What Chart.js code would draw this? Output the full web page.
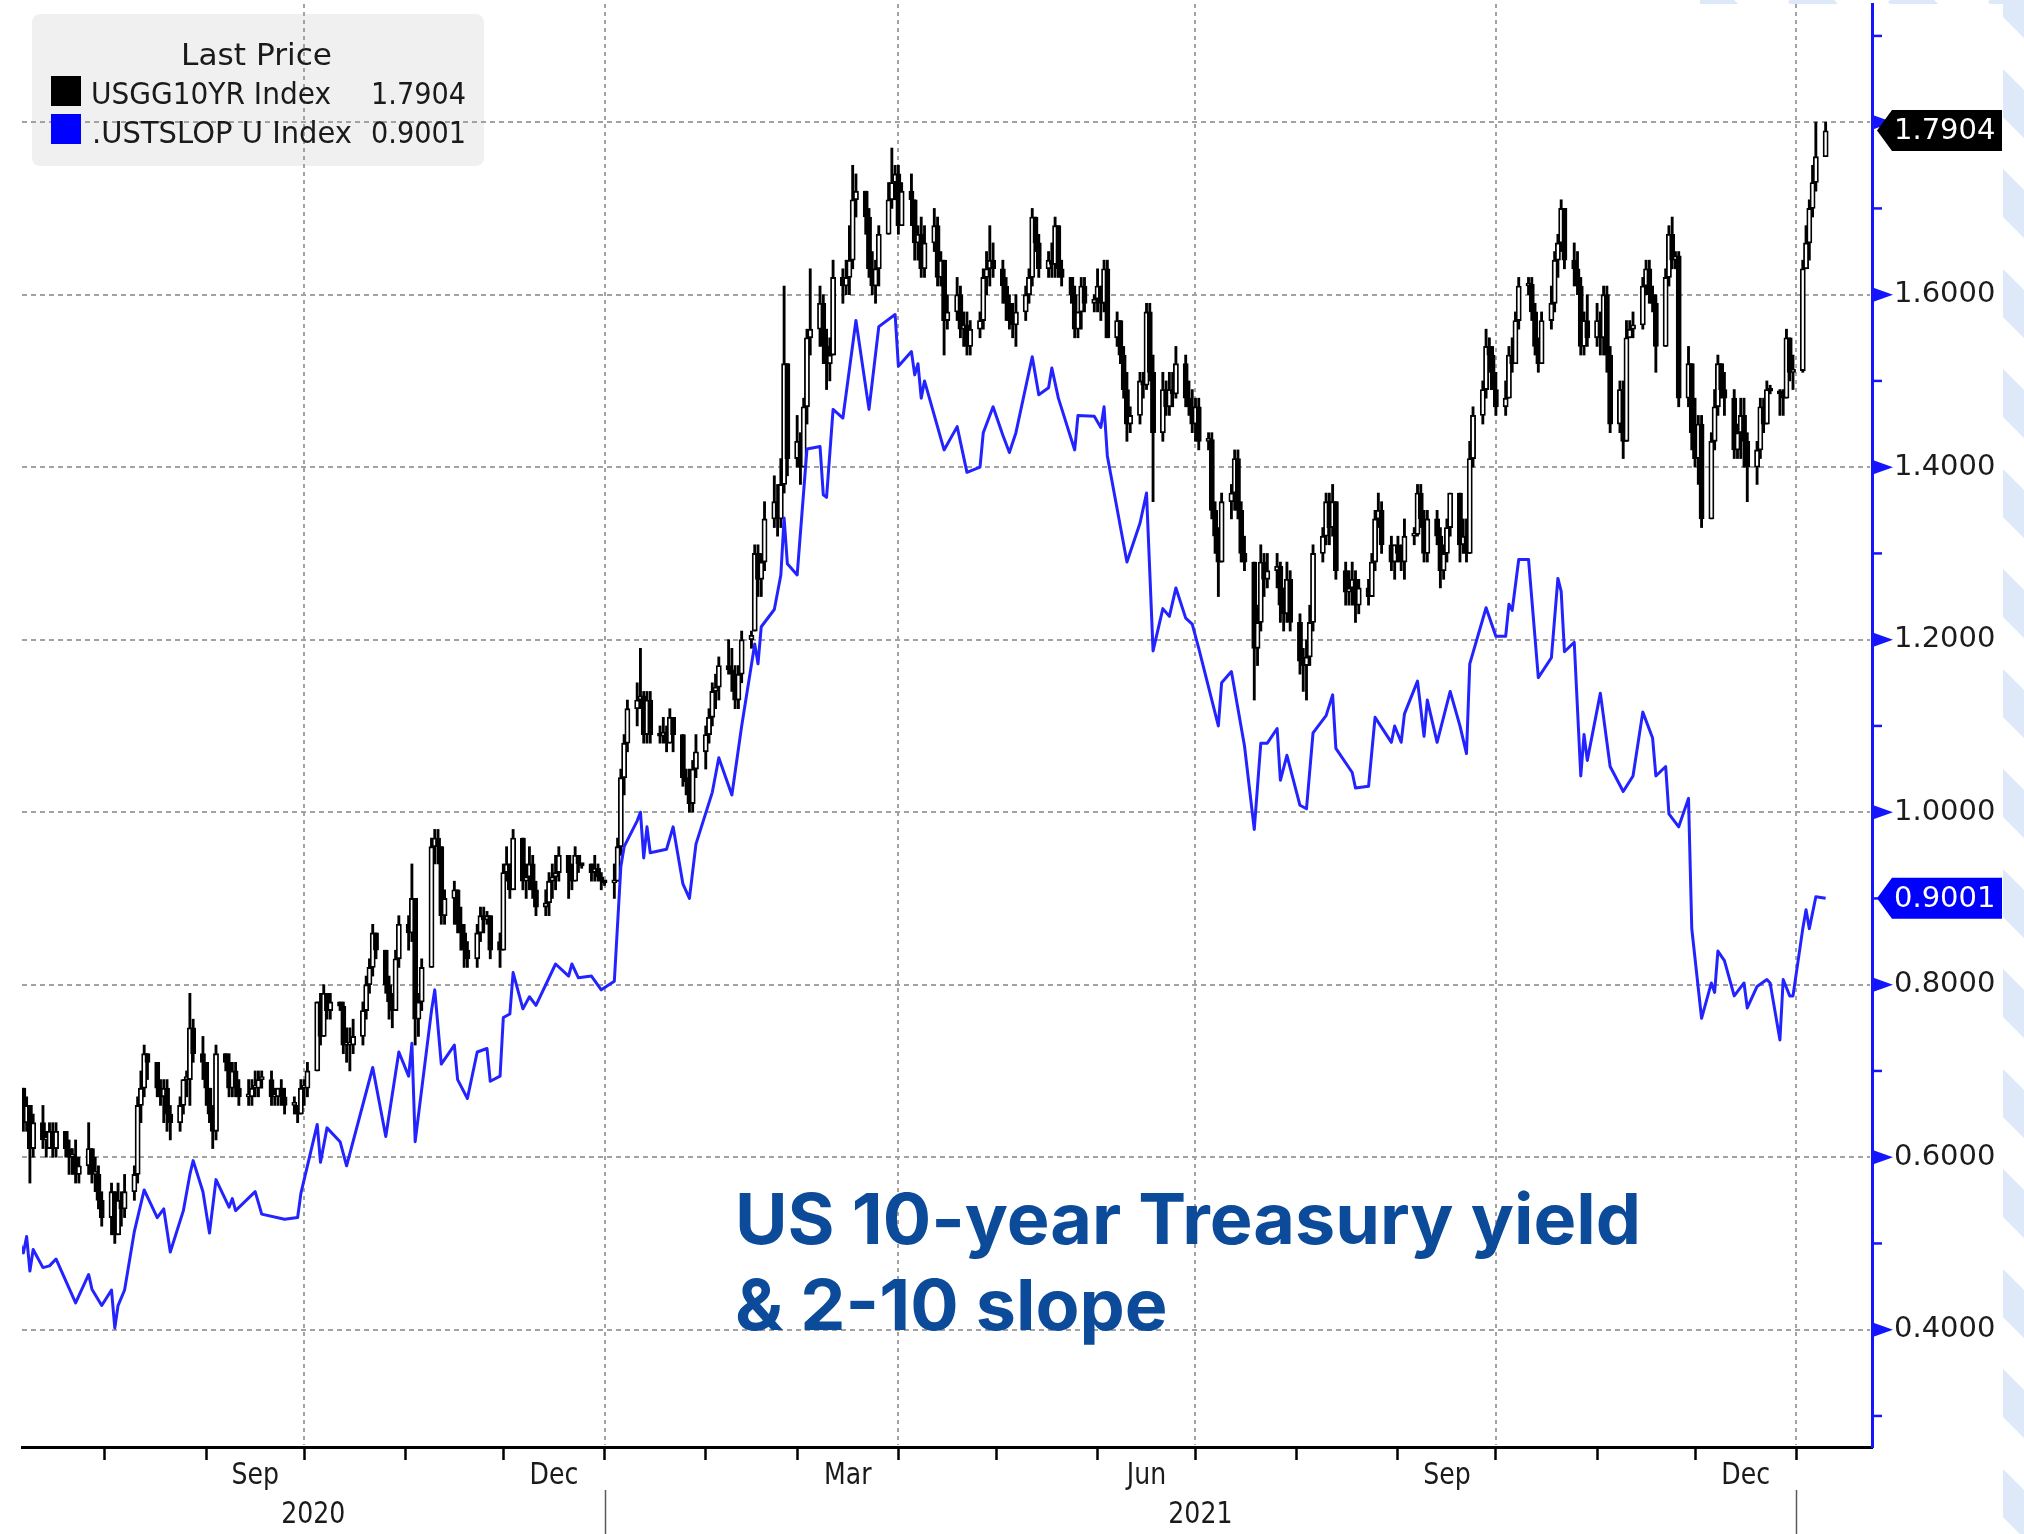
<!DOCTYPE html>
<html>
<head>
<meta charset="utf-8">
<title>US 10-year Treasury yield &amp; 2-10 slope</title>
<script src="https://cdn.jsdelivr.net/npm/chart.js@4.4.1/dist/chart.umd.min.js"></script>
<style>
html,body{margin:0;padding:0;background:#ffffff;overflow:hidden;}
#wrap{width:2024px;height:1534px;}
canvas{display:block;}
</style>
</head>
<body>
<div id="wrap"><canvas id="chart" width="2024" height="1534"></canvas></div>
<script>
// ================= DATA =================
const firstTradeDay = '2020-07-06';
const lastTradeDay  = '2022-01-10';

// USGG10YR Index daily candles (one row per week, Mon..Fri)
const usgg10Open = [
0.67,0.68,0.64,0.66,0.61, 0.64,0.62,0.61,0.63,0.61, 0.63,0.61,0.60,0.60,0.58, 0.59,0.61,0.58,0.58,0.55,
0.53,0.56,0.51,0.55,0.54, 0.56,0.58,0.66,0.68,0.72, 0.71,0.68,0.67,0.68,0.65, 0.64,0.66,0.69,0.69,0.75,
0.72,0.71,0.68,0.65,0.63, 0.72,0.71,0.68,0.70,0.68, 0.67,0.67,0.68,0.68,0.69, 0.69,0.67,0.67,0.68,0.67,
0.66,0.66,0.65,0.68,0.68, 0.70,0.78,0.74,0.79,0.77, 0.78,0.775,0.73,0.73,0.73, 0.74,0.77,0.80,0.82,0.86,
0.84,0.80,0.78,0.77,0.83, 0.87,0.86,0.90,0.76,0.78, 0.82,0.96,0.97,0.96,0.88, 0.90,0.91,0.87,0.86,0.84,
0.83,0.86,0.88,0.875,0.88, 0.85,0.84,0.93,0.94,0.91, 0.97,0.92,0.925,0.94,0.91, 0.89,0.895,0.92,0.925,0.93,
0.95,0.93,0.92,0.95,0.94, 0.94,0.93,0.935,0.925,0.92,
0.918,0.92,0.96,1.04,1.08, 1.12,1.13,1.135,1.09,1.13, 1.09,1.088,1.093,1.08,1.11, 1.09,1.04,1.035,1.01,1.05,
1.07,1.09,1.11,1.14,1.145, 1.17,1.165,1.16,1.13,1.16, 1.20,1.21,1.30,1.27,1.29, 1.34,1.36,1.34,1.38,1.52,
1.41,1.43,1.40,1.47,1.55, 1.56,1.59,1.54,1.52,1.53, 1.62,1.61,1.62,1.64,1.71, 1.72,1.69,1.63,1.61,1.63,
1.67,1.71,1.73,1.74,1.68, 1.72,1.71,1.66,1.67,1.63, 1.66,1.68,1.62,1.64,1.57, 1.58,1.60,1.56,1.565,1.54,
1.56,1.57,1.62,1.63,1.64, 1.63,1.61,1.59,1.57,1.565, 1.58,1.60,1.62,1.69,1.66, 1.63,1.64,1.635,1.68,1.63,
1.62,1.60,1.56,1.58,1.61, 1.59,1.595,1.61,1.59,1.63, 1.55,1.57,1.53,1.49,1.45, 1.46,1.50,1.495,1.58,1.51,
1.44,1.49,1.47,1.49,1.485, 1.52,1.48,1.47,1.45,1.47, 1.43,1.432,1.35,1.32,1.29, 1.36,1.37,1.41,1.35,1.30,
1.29,1.19,1.22,1.29,1.27, 1.28,1.285,1.24,1.23,1.27, 1.22,1.175,1.17,1.18,1.22, 1.30,1.32,1.36,1.33,1.36,
1.28,1.255,1.26,1.27,1.24, 1.26,1.25,1.29,1.34,1.35, 1.31,1.29,1.31,1.30,1.29, 1.32,1.322,1.37,1.34,1.30,
1.34,1.32,1.28,1.30,1.33, 1.37,1.31,1.32,1.30,1.41, 1.46,1.49,1.54,1.53,1.49, 1.47,1.48,1.53,1.52,1.57,
1.61,1.612,1.58,1.54,1.52, 1.57,1.59,1.64,1.66,1.70, 1.64,1.63,1.61,1.54,1.57, 1.55,1.57,1.55,1.60,1.53,
1.45,1.49,1.43,1.55,1.56, 1.565,1.61,1.63,1.60,1.59, 1.54,1.62,1.67,1.64,1.645, 1.48,1.52,1.44,1.41,1.45,
1.34,1.43,1.47,1.52,1.49, 1.48,1.42,1.44,1.46,1.43, 1.40,1.42,1.47,1.45,1.49, 1.488,1.485,1.48,1.55,1.51,
1.512,1.63,1.66,1.70,1.73, 1.76
];
const usgg10High = [
0.70,0.68,0.67,0.66,0.65, 0.66,0.63,0.64,0.64,0.64, 0.63,0.62,0.61,0.62,0.60, 0.64,0.61,0.60,0.59,0.56,
0.57,0.56,0.57,0.56,0.58, 0.59,0.67,0.70,0.73,0.72, 0.71,0.69,0.69,0.69,0.66, 0.67,0.69,0.70,0.79,0.76,
0.74,0.71,0.68,0.66,0.73, 0.72,0.72,0.71,0.71,0.69, 0.69,0.69,0.70,0.70,0.70, 0.70,0.68,0.68,0.69,0.68,
0.67,0.66,0.69,0.69,0.71, 0.78,0.79,0.80,0.79,0.79, 0.78,0.78,0.75,0.75,0.76, 0.78,0.81,0.83,0.87,0.86,
0.84,0.81,0.79,0.84,0.88, 0.88,0.94,0.90,0.79,0.83, 0.97,0.98,0.98,0.96,0.91, 0.92,0.91,0.89,0.87,0.85,
0.87,0.89,0.89,0.885,0.88, 0.86,0.94,0.96,0.94,0.98, 0.97,0.94,0.96,0.95,0.92, 0.91,0.93,0.94,0.95,0.96,
0.95,0.94,0.96,0.95,0.94, 0.94,0.95,0.94,0.93,0.92,
0.94,0.97,1.05,1.09,1.13, 1.15,1.19,1.14,1.14,1.14, 1.10,1.11,1.10,1.12,1.11, 1.09,1.05,1.05,1.06,1.09,
1.10,1.12,1.15,1.16,1.18, 1.20,1.19,1.17,1.17,1.21, 1.21,1.31,1.31,1.30,1.36, 1.39,1.38,1.41,1.61,1.52,
1.46,1.44,1.48,1.56,1.63, 1.61,1.60,1.56,1.55,1.64, 1.63,1.64,1.68,1.75,1.74, 1.72,1.70,1.65,1.64,1.68,
1.73,1.77,1.75,1.75,1.73, 1.74,1.71,1.68,1.69,1.68, 1.70,1.69,1.65,1.64,1.60, 1.62,1.61,1.58,1.58,1.57,
1.58,1.63,1.65,1.68,1.66, 1.64,1.62,1.60,1.59,1.60, 1.61,1.63,1.70,1.69,1.67, 1.65,1.66,1.69,1.68,1.64,
1.62,1.61,1.58,1.62,1.62, 1.60,1.63,1.61,1.64,1.64, 1.58,1.57,1.54,1.51,1.47, 1.51,1.51,1.59,1.59,1.53,
1.51,1.50,1.51,1.51,1.54, 1.53,1.50,1.49,1.48,1.48, 1.44,1.44,1.36,1.33,1.37, 1.38,1.42,1.42,1.36,1.32,
1.29,1.24,1.31,1.30,1.30, 1.30,1.29,1.26,1.29,1.28, 1.23,1.19,1.20,1.24,1.31, 1.33,1.37,1.37,1.38,1.36,
1.29,1.28,1.29,1.28,1.27, 1.27,1.30,1.35,1.37,1.36, 1.32,1.31,1.32,1.31,1.34, 1.33,1.38,1.38,1.35,1.35,
1.35,1.33,1.31,1.34,1.37, 1.37,1.34,1.34,1.43,1.47, 1.50,1.56,1.55,1.54,1.51, 1.50,1.54,1.55,1.58,1.62,
1.62,1.62,1.59,1.55,1.58, 1.61,1.65,1.67,1.71,1.70, 1.66,1.65,1.62,1.58,1.60, 1.59,1.58,1.61,1.61,1.54,
1.50,1.50,1.57,1.57,1.58, 1.62,1.64,1.64,1.61,1.60, 1.63,1.68,1.69,1.65,1.65, 1.54,1.52,1.48,1.46,1.46,
1.44,1.49,1.53,1.52,1.51, 1.49,1.45,1.48,1.48,1.44, 1.43,1.48,1.48,1.50,1.495, 1.49,1.49,1.56,1.55,1.53,
1.64,1.68,1.71,1.75,1.80, 1.80
];
const usgg10Low = [
0.66,0.63,0.63,0.57,0.60, 0.61,0.60,0.61,0.60,0.60, 0.60,0.58,0.58,0.57,0.57, 0.58,0.57,0.56,0.54,0.52,
0.51,0.50,0.51,0.52,0.53, 0.55,0.57,0.64,0.67,0.69, 0.67,0.66,0.64,0.63,0.62, 0.63,0.65,0.67,0.66,0.71,
0.69,0.66,0.64,0.61,0.62, 0.70,0.67,0.67,0.67,0.66, 0.66,0.66,0.67,0.67,0.68, 0.66,0.66,0.66,0.66,0.65,
0.65,0.64,0.65,0.66,0.67, 0.70,0.73,0.74,0.76,0.76, 0.77,0.72,0.71,0.70,0.72, 0.73,0.76,0.79,0.81,0.83,
0.79,0.76,0.75,0.77,0.82, 0.84,0.85,0.73,0.74,0.77, 0.82,0.94,0.94,0.87,0.87, 0.87,0.86,0.84,0.82,0.82,
0.82,0.85,0.86,0.87,0.83, 0.82,0.84,0.92,0.90,0.91, 0.91,0.90,0.91,0.90,0.88, 0.88,0.88,0.90,0.91,0.92,
0.90,0.91,0.92,0.93,0.935, 0.92,0.92,0.92,0.91,0.915,
0.90,0.92,0.95,1.02,1.07, 1.10,1.12,1.08,1.08,1.08, 1.08,1.08,1.07,1.08,1.07, 1.03,1.02,1.00,1.00,1.04,
1.05,1.08,1.10,1.12,1.13, 1.16,1.14,1.12,1.12,1.15, 1.19,1.21,1.25,1.25,1.28, 1.33,1.32,1.33,1.37,1.39,
1.40,1.38,1.40,1.45,1.53, 1.54,1.52,1.49,1.50,1.53, 1.59,1.60,1.60,1.63,1.69, 1.67,1.62,1.60,1.59,1.61,
1.67,1.70,1.71,1.67,1.68, 1.68,1.64,1.64,1.62,1.62, 1.65,1.61,1.61,1.53,1.56, 1.57,1.55,1.54,1.53,1.53,
1.55,1.56,1.60,1.61,1.62, 1.59,1.57,1.56,1.55,1.54, 1.57,1.59,1.61,1.65,1.62, 1.62,1.62,1.62,1.62,1.61,
1.59,1.55,1.55,1.56,1.58, 1.58,1.58,1.57,1.58,1.55, 1.54,1.52,1.48,1.43,1.44, 1.45,1.48,1.49,1.50,1.36,
1.43,1.46,1.46,1.47,1.48, 1.47,1.46,1.44,1.43,1.42, 1.42,1.34,1.30,1.25,1.29, 1.34,1.35,1.34,1.29,1.28,
1.13,1.17,1.21,1.25,1.26, 1.26,1.22,1.21,1.22,1.21, 1.16,1.14,1.13,1.17,1.21, 1.29,1.31,1.31,1.32,1.27,
1.24,1.24,1.24,1.22,1.23, 1.24,1.25,1.28,1.33,1.30, 1.28,1.27,1.29,1.28,1.27, 1.31,1.32,1.33,1.29,1.29,
1.31,1.26,1.27,1.29,1.32, 1.29,1.30,1.29,1.30,1.40, 1.45,1.48,1.51,1.49,1.46, 1.46,1.48,1.51,1.52,1.56,
1.60,1.57,1.53,1.51,1.52, 1.56,1.58,1.62,1.65,1.63, 1.61,1.60,1.53,1.53,1.54, 1.54,1.53,1.53,1.51,1.44,
1.44,1.41,1.43,1.55,1.55, 1.56,1.60,1.59,1.58,1.51, 1.54,1.61,1.63,1.63,1.47, 1.47,1.42,1.40,1.38,1.33,
1.34,1.42,1.46,1.48,1.46, 1.41,1.41,1.41,1.40,1.36, 1.38,1.41,1.44,1.45,1.485, 1.46,1.46,1.48,1.50,1.49,
1.51,1.63,1.64,1.69,1.72, 1.76
];
const usgg10Close = [
0.68,0.64,0.66,0.61,0.64, 0.62,0.62,0.63,0.61,0.63, 0.61,0.60,0.60,0.58,0.59, 0.61,0.58,0.58,0.55,0.53,
0.56,0.51,0.55,0.54,0.56, 0.58,0.66,0.68,0.72,0.71, 0.68,0.67,0.68,0.65,0.64, 0.66,0.69,0.69,0.75,0.72,
0.71,0.68,0.65,0.63,0.72, 0.71,0.68,0.70,0.68,0.67, 0.67,0.68,0.68,0.69,0.69, 0.67,0.67,0.68,0.67,0.66,
0.66,0.65,0.68,0.68,0.70, 0.78,0.74,0.79,0.77,0.78, 0.775,0.73,0.73,0.73,0.74, 0.77,0.80,0.82,0.86,0.84,
0.80,0.78,0.77,0.83,0.87, 0.86,0.90,0.76,0.78,0.82, 0.96,0.97,0.96,0.88,0.90, 0.91,0.87,0.86,0.84,0.83,
0.86,0.88,0.875,0.88,0.84, 0.84,0.93,0.94,0.91,0.97, 0.92,0.925,0.94,0.91,0.89, 0.895,0.92,0.925,0.93,0.95,
0.93,0.92,0.95,0.94,0.938, 0.93,0.935,0.925,0.92,0.918,
0.92,0.96,1.04,1.08,1.12, 1.13,1.135,1.09,1.13,1.09, 1.088,1.093,1.08,1.11,1.09, 1.04,1.035,1.01,1.05,1.07,
1.09,1.11,1.14,1.145,1.17, 1.165,1.16,1.13,1.16,1.20, 1.205,1.30,1.27,1.29,1.34, 1.36,1.34,1.38,1.52,1.41,
1.43,1.40,1.47,1.55,1.56, 1.59,1.54,1.52,1.53,1.62, 1.61,1.62,1.64,1.71,1.72, 1.69,1.63,1.61,1.63,1.67,
1.71,1.73,1.74,1.68,1.72, 1.71,1.66,1.67,1.63,1.66, 1.68,1.62,1.64,1.57,1.58, 1.60,1.56,1.565,1.54,1.56,
1.57,1.62,1.63,1.64,1.63, 1.61,1.59,1.57,1.565,1.58, 1.60,1.62,1.69,1.66,1.63, 1.64,1.635,1.68,1.63,1.62,
1.60,1.56,1.58,1.61,1.59, 1.595,1.61,1.59,1.63,1.55, 1.57,1.53,1.49,1.45,1.46, 1.50,1.495,1.58,1.51,1.44,
1.49,1.47,1.49,1.485,1.52, 1.48,1.47,1.45,1.47,1.43, 1.432,1.35,1.32,1.29,1.36, 1.37,1.41,1.35,1.30,1.29,
1.19,1.22,1.29,1.27,1.28, 1.285,1.24,1.23,1.27,1.22, 1.175,1.17,1.18,1.22,1.30, 1.32,1.36,1.33,1.36,1.28,
1.255,1.26,1.27,1.24,1.26, 1.25,1.29,1.34,1.35,1.31, 1.29,1.31,1.30,1.29,1.32, 1.322,1.37,1.34,1.30,1.34,
1.32,1.28,1.30,1.33,1.37, 1.31,1.32,1.30,1.41,1.46, 1.49,1.54,1.53,1.49,1.47, 1.48,1.53,1.52,1.57,1.61,
1.612,1.58,1.54,1.52,1.57, 1.59,1.64,1.66,1.70,1.64, 1.63,1.61,1.54,1.57,1.55, 1.57,1.55,1.60,1.53,1.45,
1.49,1.43,1.55,1.56,1.565, 1.61,1.63,1.60,1.59,1.54, 1.62,1.67,1.64,1.645,1.48, 1.52,1.44,1.41,1.45,1.34,
1.43,1.47,1.52,1.49,1.48, 1.42,1.44,1.46,1.43,1.40, 1.42,1.47,1.45,1.49,1.488, 1.485,1.48,1.55,1.51,1.512,
1.63,1.66,1.70,1.73,1.76, 1.79
];

// .USTSLOP U Index (2-10 slope)
const slopeDates = [
'2020-07-06','2020-07-07','2020-07-08','2020-07-09','2020-07-10','2020-07-13','2020-07-15','2020-07-17','2020-07-23','2020-07-27','2020-07-28','2020-07-31',
'2020-08-03','2020-08-04','2020-08-05','2020-08-07','2020-08-10','2020-08-13','2020-08-17','2020-08-19','2020-08-21','2020-08-25','2020-08-27','2020-08-28','2020-08-31',
'2020-09-02','2020-09-04','2020-09-08','2020-09-09','2020-09-10','2020-09-16','2020-09-18','2020-09-25','2020-09-29','2020-09-30',
'2020-10-05','2020-10-06','2020-10-08','2020-10-12','2020-10-14','2020-10-22','2020-10-26','2020-10-30',
'2020-11-02','2020-11-03','2020-11-04','2020-11-09','2020-11-10','2020-11-12','2020-11-16','2020-11-17','2020-11-20','2020-11-23','2020-11-26','2020-11-27','2020-11-30',
'2020-12-01','2020-12-03','2020-12-04','2020-12-07','2020-12-09','2020-12-11','2020-12-17','2020-12-21','2020-12-22','2020-12-24','2020-12-28','2020-12-31',
'2021-01-04','2021-01-06','2021-01-07','2021-01-11','2021-01-12','2021-01-13','2021-01-14','2021-01-15','2021-01-20','2021-01-22','2021-01-25','2021-01-27','2021-01-29',
'2021-02-03','2021-02-05','2021-02-09','2021-02-12','2021-02-16','2021-02-17','2021-02-18','2021-02-22','2021-02-24','2021-02-25','2021-02-26',
'2021-03-01','2021-03-04','2021-03-08','2021-03-09','2021-03-10','2021-03-12','2021-03-15','2021-03-19','2021-03-23','2021-03-26','2021-03-31',
'2021-04-01','2021-04-05','2021-04-06','2021-04-07','2021-04-08','2021-04-09','2021-04-12','2021-04-15','2021-04-19','2021-04-22','2021-04-26','2021-04-27','2021-04-30',
'2021-05-03','2021-05-05','2021-05-07','2021-05-12','2021-05-14','2021-05-17','2021-05-18','2021-05-20','2021-05-25','2021-05-26','2021-05-31',
'2021-06-02','2021-06-03','2021-06-04','2021-06-10','2021-06-14','2021-06-16','2021-06-18','2021-06-21','2021-06-23','2021-06-25','2021-06-28','2021-06-30',
'2021-07-02','2021-07-08','2021-07-09','2021-07-12','2021-07-16','2021-07-19','2021-07-21','2021-07-23','2021-07-26','2021-07-27','2021-07-29',
'2021-08-02','2021-08-04','2021-08-06','2021-08-10','2021-08-12','2021-08-13','2021-08-18','2021-08-19','2021-08-23','2021-08-25','2021-08-30','2021-08-31',
'2021-09-02','2021-09-03','2021-09-07','2021-09-09','2021-09-10','2021-09-13','2021-09-17','2021-09-20','2021-09-22','2021-09-23','2021-09-24','2021-09-28',
'2021-10-01','2021-10-04','2021-10-05','2021-10-06','2021-10-08','2021-10-11','2021-10-14','2021-10-18','2021-10-20','2021-10-21','2021-10-22','2021-10-25','2021-10-27','2021-10-28','2021-10-29',
'2021-11-02','2021-11-05','2021-11-09','2021-11-12','2021-11-15','2021-11-18','2021-11-19','2021-11-22','2021-11-23','2021-11-26','2021-11-29','2021-11-30',
'2021-12-03','2021-12-06','2021-12-07','2021-12-08','2021-12-10','2021-12-13','2021-12-16','2021-12-17','2021-12-20','2021-12-23','2021-12-24','2021-12-27','2021-12-28','2021-12-30','2021-12-31',
'2022-01-03','2022-01-04','2022-01-05','2022-01-07','2022-01-10'
];
const slopeValues = [
0.500,0.489,0.508,0.468,0.493,0.472,0.474,0.482,0.431,0.464,0.447,0.428,
0.446,0.402,0.428,0.446,0.514,0.562,0.530,0.540,0.490,0.538,0.580,0.596,0.560,
0.512,0.574,0.542,0.552,0.538,0.560,0.534,0.528,0.530,0.558,
0.638,0.594,0.634,0.618,0.590,0.704,0.624,0.722,
0.694,0.732,0.618,0.770,0.794,0.708,0.730,0.690,0.668,0.722,0.726,0.688,0.694,
0.762,0.766,0.814,0.772,0.786,0.776,0.824,0.810,0.824,0.808,0.810,0.794,
0.804,0.937,0.960,0.990,1.000,0.947,0.983,0.953,0.957,0.983,0.917,0.900,0.963,
1.023,1.063,1.020,1.100,1.195,1.172,1.215,1.235,1.275,1.341,1.288,
1.275,1.421,1.424,1.368,1.365,1.467,1.457,1.570,1.467,1.563,1.577,
1.517,1.534,1.507,1.520,1.480,1.500,1.460,1.420,1.447,1.394,1.400,1.440,1.470,
1.437,1.417,1.440,1.528,1.484,1.492,1.515,1.480,1.420,1.460,1.459,
1.446,1.470,1.413,1.290,1.335,1.370,1.187,1.236,1.227,1.260,1.225,1.218,
1.190,1.100,1.150,1.163,1.077,0.980,1.080,1.080,1.097,1.037,1.066,
1.008,1.004,1.092,1.112,1.136,1.074,1.046,1.028,1.030,1.110,1.081,1.100,
1.081,1.114,1.152,1.088,1.130,1.081,1.140,1.100,1.068,1.172,1.185,1.237,
1.204,1.204,1.241,1.234,1.293,1.293,1.156,1.179,1.271,1.256,1.186,1.197,1.042,1.090,1.060,
1.138,1.053,1.024,1.042,1.116,1.086,1.042,1.053,0.998,0.983,1.016,0.865,
0.761,0.802,0.791,0.839,0.828,0.787,0.802,0.773,0.798,0.806,0.802,0.736,0.806,0.787,0.787,
0.865,0.887,0.865,0.902,0.9001
];

const lastPrices = [1.7904, 0.9001];
const seriesNames = ['USGG10YR Index', '.USTSLOP U Index'];
const seriesColors = ['#000000', '#0000ff'];
const legendTitle = 'Last Price';
const yTickValues = [0.3,0.4,0.5,0.6,0.7,0.8,0.9,1.0,1.1,1.2,1.3,1.4,1.5,1.6,1.7,1.8,1.9];
const monthLabels = ['Sep','Dec','Mar','Jun','Sep','Dec'];
const monthLabelMonths = ['2020-09','2020-12','2021-03','2021-06','2021-09','2021-12'];
const yearLabels = ['2020','2021'];
const yearStarts = ['2020-01-01','2021-01-01','2022-01-01'];
const quarterGridDates = ['2020-10-01','2021-01-01','2021-04-01','2021-07-01','2021-10-01','2022-01-01'];
const titleLines = ['US 10-year Treasury yield', '& 2-10 slope'];

// ================= HELPERS =================
const BASE = Date.UTC(2020, 7, 1);
function dayNum(s) { const p = s.split('-').map(Number); return (Date.UTC(p[0], p[1]-1, p[2] || 1) - BASE) / 864e5; }
const X_MIN = -25.42, X_MAX = 541.2, Y_MIN = 0.264, Y_MAX = 1.937;
const AXIS_BLUE = '#1414ff';

const tradeDays = [];
for (let t = Date.UTC(2020,6,6); t <= Date.UTC(2022,0,10); t += 864e5) {
  const wd = new Date(t).getUTCDay();
  if (wd > 0 && wd < 6) tradeDays.push((t - BASE) / 864e5);
}
const nC = Math.min(tradeDays.length, usgg10Open.length, usgg10High.length, usgg10Low.length, usgg10Close.length);
const wickData = [], bodyData = [];
for (let i = 0; i < nC; i++) {
  wickData.push({x: tradeDays[i], y: [usgg10Low[i], usgg10High[i]]});
  bodyData.push({x: tradeDays[i], y: [usgg10Open[i], usgg10Close[i]], up: usgg10Close[i] >= usgg10Open[i]});
}
const nS = Math.min(slopeDates.length, slopeValues.length);
const slopeData = [];
for (let i = 0; i < nS; i++) slopeData.push({x: dayNum(slopeDates[i]), y: slopeValues[i]});

const monthStarts = [];
for (let y = 2020, m = 7; y < 2022 || (y === 2022 && m <= 0); ) {
  monthStarts.push((Date.UTC(y, m, 1) - BASE) / 864e5);
  m++; if (m > 11) { m = 0; y++; }
}

function isMajor(v) { return Math.round(v * 10) % 2 === 0; }

function drawScaled(ctx, text, x, y, font, sx, align, color) {
  ctx.save();
  ctx.font = font; ctx.fillStyle = color; ctx.textAlign = align; ctx.textBaseline = 'alphabetic';
  ctx.translate(x, y); ctx.scale(sx, 1); ctx.fillText(text, 0, 0);
  ctx.restore();
}
function drawFit(ctx, text, x, y, font, width, color) {
  ctx.save();
  ctx.font = font; ctx.fillStyle = color; ctx.textAlign = 'left'; ctx.textBaseline = 'alphabetic';
  const w = ctx.measureText(text).width;
  ctx.translate(x, y); ctx.scale(width / w, 1); ctx.fillText(text, 0, 0);
  ctx.restore();
}
function roundRect(ctx, x, y, w, h, r) {
  ctx.beginPath();
  ctx.moveTo(x + r, y); ctx.lineTo(x + w - r, y); ctx.quadraticCurveTo(x + w, y, x + w, y + r);
  ctx.lineTo(x + w, y + h - r); ctx.quadraticCurveTo(x + w, y + h, x + w - r, y + h);
  ctx.lineTo(x + r, y + h); ctx.quadraticCurveTo(x, y + h, x, y + h - r);
  ctx.lineTo(x, y + r); ctx.quadraticCurveTo(x, y, x + r, y); ctx.closePath();
}

// ================= PLUGINS =================
const backgroundPlugin = {
  id: 'bgStripes',
  beforeDraw(chart) {
    const {ctx, width, height} = chart;
    ctx.save();
    ctx.fillStyle = '#ffffff'; ctx.fillRect(0, 0, width, height);
    ctx.beginPath(); ctx.rect(2003, 0, width - 2003, height); ctx.rect(1700, 0, 303, 4); ctx.clip();
    ctx.strokeStyle = '#dde8f8'; ctx.lineWidth = 34;
    for (let t = -1700; t < 2200; t += 100) { ctx.beginPath(); ctx.moveTo(t, -10); ctx.lineTo(t + 1700, 1690); ctx.stroke(); }
    ctx.restore();
  }
};

const gridPlugin = {
  id: 'dashedGrid',
  beforeDatasetsDraw(chart) {
    const {ctx, chartArea: a, scales: {x, y}} = chart;
    ctx.save();
    ctx.fillStyle = '#f0f0f0';
    roundRect(ctx, 32, 14, 452, 152, 9); ctx.fill();
    ctx.strokeStyle = '#a2a2a2'; ctx.lineWidth = 2;
    ctx.setLineDash([5, 4]);
    yTickValues.filter(isMajor).forEach(v => {
      const py = Math.round(y.getPixelForValue(v));
      ctx.beginPath(); ctx.moveTo(a.left, py); ctx.lineTo(a.right - 2, py); ctx.stroke();
    });
    ctx.setLineDash([4, 4]);
    quarterGridDates.forEach(d => {
      const px = Math.round(x.getPixelForValue(dayNum(d)));
      ctx.beginPath(); ctx.moveTo(px, a.top); ctx.lineTo(px, a.bottom - 2); ctx.stroke();
    });
    ctx.restore();
  }
};

function drawTag(ctx, py, fill, text, left) {
  const h = 41, x0 = left + 5, x1 = left + 20, x2 = 2002;
  ctx.beginPath();
  ctx.moveTo(x0, py); ctx.lineTo(x1, py - h/2); ctx.lineTo(x2, py - h/2);
  ctx.lineTo(x2, py + h/2); ctx.lineTo(x1, py + h/2); ctx.closePath();
  ctx.fillStyle = fill; ctx.fill();
  ctx.font = '29px "DejaVu Sans"'; ctx.fillStyle = '#ffffff'; ctx.textAlign = 'left'; ctx.textBaseline = 'middle';
  ctx.fillText(text, left + 22, py + 1);
}

const overlayPlugin = {
  id: 'overlay',
  afterDraw(chart) {
    const {ctx, chartArea: a, scales: {x, y}} = chart;
    ctx.save();
    // right-axis tick marks: arrows (major), short lines (minor)
    ctx.fillStyle = AXIS_BLUE; ctx.strokeStyle = AXIS_BLUE;
    yTickValues.forEach(v => {
      const py = y.getPixelForValue(v);
      if (isMajor(v)) {
        ctx.beginPath(); ctx.moveTo(a.right, py - 7.5); ctx.lineTo(a.right + 21, py); ctx.lineTo(a.right, py + 7.5); ctx.closePath(); ctx.fill();
      } else {
        ctx.lineWidth = 2.5; ctx.beginPath(); ctx.moveTo(a.right, py); ctx.lineTo(a.right + 10, py); ctx.stroke();
      }
    });
    // last price tags
    drawTag(ctx, y.getPixelForValue(lastPrices[0]), '#000000', lastPrices[0].toFixed(4), a.right);
    drawTag(ctx, y.getPixelForValue(lastPrices[1]), '#0000ff', lastPrices[1].toFixed(4), a.right);

    // month labels
    monthLabels.forEach((lab, i) => {
      const p = monthLabelMonths[i].split('-').map(Number);
      const mid = ((Date.UTC(p[0], p[1]-1, 1) + Date.UTC(p[0], p[1], 1)) / 2 - BASE) / 864e5;
      drawScaled(ctx, lab, x.getPixelForValue(mid), 1484, '30px "DejaVu Sans"', 0.84, 'center', '#1a1a1a');
    });
    // year labels + separators
    yearLabels.forEach((lab, i) => {
      const s = Math.max(X_MIN, dayNum(yearStarts[i])), e = Math.min(X_MAX, dayNum(yearStarts[i+1]));
      const cx = (x.getPixelForValue(s) + x.getPixelForValue(e)) / 2;
      drawScaled(ctx, lab, cx, 1523, '30px "DejaVu Sans"', 0.84, 'center', '#1a1a1a');
    });
    ctx.strokeStyle = '#5a5a5a'; ctx.lineWidth = 1.5; ctx.setLineDash([]);
    yearStarts.slice(1).forEach(d => {
      const px = Math.round(x.getPixelForValue(dayNum(d))) + 0.5;
      ctx.beginPath(); ctx.moveTo(px, 1490); ctx.lineTo(px, 1534); ctx.stroke();
    });

    // legend
    const lf = '31px "DejaVu Sans"';
    drawFit(ctx, legendTitle, 181, 65, lf, 151, '#1a1a1a');
    ctx.fillStyle = seriesColors[0]; ctx.fillRect(51, 76, 30, 30);
    ctx.fillStyle = seriesColors[1]; ctx.fillRect(51, 114, 30, 30);
    drawFit(ctx, seriesNames[0], 91, 104, lf, 240, '#1a1a1a');
    drawFit(ctx, seriesNames[1], 92, 143, lf, 260, '#1a1a1a');
    drawFit(ctx, lastPrices[0].toFixed(4), 371, 104, lf, 95, '#1a1a1a');
    drawFit(ctx, lastPrices[1].toFixed(4), 371, 143, lf, 95, '#1a1a1a');

    // title annotation
    ctx.font = '700 70px Inter';
    const s = 906 / ctx.measureText(titleLines[0]).width;
    drawScaled(ctx, titleLines[0], 735, 1244, '700 70px Inter', s, 'left', '#0c4a9a');
    drawScaled(ctx, titleLines[1], 735, 1330, '700 70px Inter', s, 'left', '#0c4a9a');
    ctx.restore();
  }
};

// ================= CHART =================
Chart.defaults.font.family = '"DejaVu Sans"';
new Chart(document.getElementById('chart').getContext('2d'), {
  type: 'bar',
  data: {
    datasets: [
      {
        type: 'line', label: seriesNames[1], data: slopeData, order: 0,
        borderColor: '#2323ff', borderWidth: 3, pointRadius: 0, tension: 0,
        borderJoinStyle: 'round', fill: false
      },
      {
        type: 'bar', label: seriesNames[0] + ' range', data: wickData, order: 2,
        backgroundColor: '#000000', borderWidth: 0, barThickness: 2.2, grouped: false
      },
      {
        type: 'bar', label: seriesNames[0], data: bodyData, order: 1,
        backgroundColor: c => (c.raw && c.raw.up) ? '#ffffff' : '#000000',
        borderColor: '#000000', borderWidth: 1.8, borderSkipped: false,
        barThickness: 5.2, grouped: false, minBarLength: 3
      }
    ]
  },
  options: {
    responsive: false, animation: false, devicePixelRatio: 1,
    layout: { padding: { left: 22, top: 4, right: 0, bottom: 0 } },
    plugins: { legend: { display: false }, tooltip: { enabled: false } },
    events: [],
    scales: {
      x: {
        type: 'linear', position: 'bottom', min: X_MIN, max: X_MAX, offset: false,
        afterBuildTicks: s => { s.ticks = monthStarts.map(v => ({ value: v })); },
        afterFit: s => { s.height = 87; s.paddingLeft = 0; s.paddingRight = 0; },
        ticks: { display: false, autoSkip: false },
        grid: { display: true, drawOnChartArea: false, drawTicks: true, tickLength: 13, tickWidth: 2.5, tickColor: '#000000', offset: false },
        border: { display: true, color: '#000000', width: 3 }
      },
      y: {
        type: 'linear', position: 'right', min: Y_MIN, max: Y_MAX,
        afterBuildTicks: s => { s.ticks = yTickValues.map(v => ({ value: v })); },
        afterFit: s => { s.width = 152; s.paddingTop = 0; s.paddingBottom = 0; },
        ticks: {
          autoSkip: false, padding: 22, color: '#1c1c1c', font: { family: '"DejaVu Sans"', size: 29 },
          callback: v => (isMajor(v) && Math.abs(v - 1.8) > 1e-6) ? Number(v).toFixed(4) : ''
        },
        grid: { display: false, drawTicks: false },
        border: { display: true, color: AXIS_BLUE, width: 3 }
      }
    }
  },
  plugins: [backgroundPlugin, gridPlugin, overlayPlugin]
});
</script>
</body>
</html>
